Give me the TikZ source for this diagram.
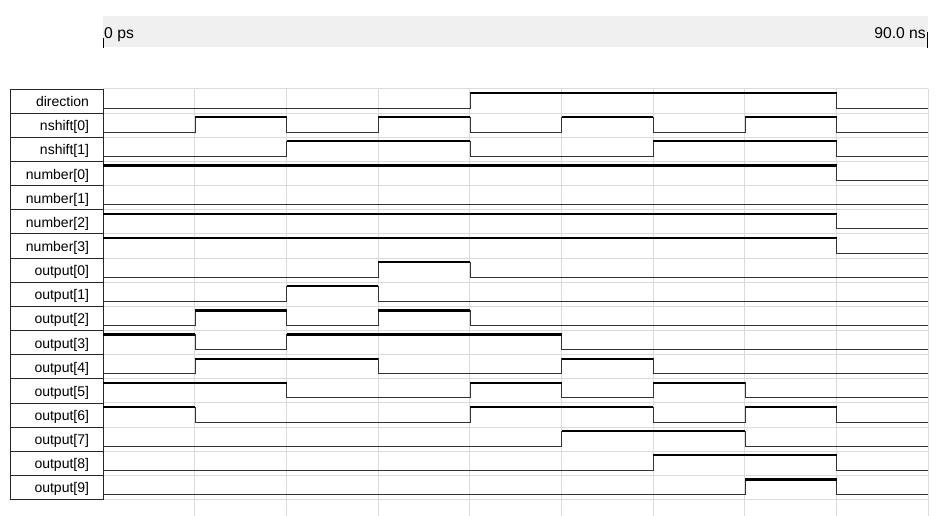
\documentclass[tikz,border=0pt]{standalone}
\usepackage{fontspec}
\setmainfont{Liberation Sans}
\begin{document}
\begin{tikzpicture}[x=1pt, y=-1pt, node distance=24.15pt,
    sig/.style={draw=black!85, line width=0.9pt, minimum height=24.15pt, text width=93pt, inner xsep=0pt,
      align=right, text height=11pt, text depth=0pt, font=\fontsize{14}{16}\selectfont,
      execute at end node=\hspace*{14pt}},
    grid/.style={draw=black!14, line width=1pt},
    lo/.style={draw=black!80, line width=1pt},
    hi/.style={draw=black, line width=2.3pt},
    wave/.style={shift={(#1.north east)}, xscale=91.67}]
        \useasboundingbox (0,0) rectangle (943,516);
        % time bar
        \fill[black!6] (103,16) rectangle (928,47);
        \draw[line width=1pt] (103,38) -- (103,48);
        \draw[line width=1pt] (927,32) -- (927,48);
        \node[anchor=base west, inner sep=0pt, font=\fontsize{15.7}{18}\selectfont] (start) at (104,38.3) {0 ps};
        \node[anchor=base east, inner sep=0pt, font=\fontsize{15.7}{18}\selectfont] (stop) at (926,38.3) {90.0 ns};
        % grid
        \foreach \i in {0,...,17}
            \draw[grid] (103,{89+24.15*\i}) -- (928,{89+24.15*\i});
        \foreach \k in {1,...,9}
            \draw[grid] ({103+91.67*\k},89) -- ({103+91.67*\k},516);
        % signal names
        \node[sig] (dir) at (56.5,101.075) {direction};
        \node[sig] (ns0) [below of=dir] {nshift[0]};
        \node[sig] (ns1) [below of=ns0] {nshift[1]};
        \node[sig] (num0) [below of=ns1] {number[0]};
        \node[sig] (num1) [below of=num0] {number[1]};
        \node[sig] (num2) [below of=num1] {number[2]};
        \node[sig] (num3) [below of=num2] {number[3]};
        \node[sig] (out0) [below of=num3] {output[0]};
        \node[sig] (out1) [below of=out0] {output[1]};
        \node[sig] (out2) [below of=out1] {output[2]};
        \node[sig] (out3) [below of=out2] {output[3]};
        \node[sig] (out4) [below of=out3] {output[4]};
        \node[sig] (out5) [below of=out4] {output[5]};
        \node[sig] (out6) [below of=out5] {output[6]};
        \node[sig] (out7) [below of=out6] {output[7]};
        \node[sig] (out8) [below of=out7] {output[8]};
        \node[sig] (out9) [below of=out8] {output[9]};
        % waveforms
        \def\L{19.6}
        \def\H{4.5}
        \draw[lo, wave=dir] (0,\L) -| (4,\H) -| (8,\L) -- (9,\L);
        \draw[hi, wave=dir] (4,\H) -- (8,\H);
        \draw[lo, wave=ns0] (0,\L) -| (1,\H) -| (2,\L) -| (3,\H) -| (4,\L) -| (5,\H) -| (6,\L) -| (7,\H) -| (8,\L) -- (9,\L);
        \draw[hi, wave=ns0] (1,\H) -- (2,\H) (3,\H) -- (4,\H) (5,\H) -- (6,\H) (7,\H) -- (8,\H);
        \draw[lo, wave=ns1] (0,\L) -| (2,\H) -| (4,\L) -| (6,\H) -| (8,\L) -- (9,\L);
        \draw[hi, wave=ns1] (2,\H) -- (4,\H) (6,\H) -- (8,\H);
        \draw[lo, wave=num0] (0,\H) -| (8,\L) -- (9,\L);
        \draw[hi, wave=num0] (0,\H) -- (8,\H);
        \draw[lo, wave=num1] (0,\L) -- (9,\L);
        \draw[lo, wave=num2] (0,\H) -| (8,\L) -- (9,\L);
        \draw[hi, wave=num2] (0,\H) -- (8,\H);
        \draw[lo, wave=num3] (0,\H) -| (8,\L) -- (9,\L);
        \draw[hi, wave=num3] (0,\H) -- (8,\H);
        \draw[lo, wave=out0] (0,\L) -| (3,\H) -| (4,\L) -- (9,\L);
        \draw[hi, wave=out0] (3,\H) -- (4,\H);
        \draw[lo, wave=out1] (0,\L) -| (2,\H) -| (3,\L) -- (9,\L);
        \draw[hi, wave=out1] (2,\H) -- (3,\H);
        \draw[lo, wave=out2] (0,\L) -| (1,\H) -| (2,\L) -| (3,\H) -| (4,\L) -- (9,\L);
        \draw[hi, wave=out2] (1,\H) -- (2,\H) (3,\H) -- (4,\H);
        \draw[lo, wave=out3] (0,\H) -| (1,\L) -| (2,\H) -| (5,\L) -- (9,\L);
        \draw[hi, wave=out3] (0,\H) -- (1,\H) (2,\H) -- (5,\H);
        \draw[lo, wave=out4] (0,\L) -| (1,\H) -| (3,\L) -| (5,\H) -| (6,\L) -- (9,\L);
        \draw[hi, wave=out4] (1,\H) -- (3,\H) (5,\H) -- (6,\H);
        \draw[lo, wave=out5] (0,\H) -| (2,\L) -| (4,\H) -| (5,\L) -| (6,\H) -| (7,\L) -- (9,\L);
        \draw[hi, wave=out5] (0,\H) -- (2,\H) (4,\H) -- (5,\H) (6,\H) -- (7,\H);
        \draw[lo, wave=out6] (0,\H) -| (1,\L) -| (4,\H) -| (6,\L) -| (7,\H) -| (8,\L) -- (9,\L);
        \draw[hi, wave=out6] (0,\H) -- (1,\H) (4,\H) -- (6,\H) (7,\H) -- (8,\H);
        \draw[lo, wave=out7] (0,\L) -| (5,\H) -| (7,\L) -- (9,\L);
        \draw[hi, wave=out7] (5,\H) -- (7,\H);
        \draw[lo, wave=out8] (0,\L) -| (6,\H) -| (8,\L) -- (9,\L);
        \draw[hi, wave=out8] (6,\H) -- (8,\H);
        \draw[lo, wave=out9] (0,\L) -| (7,\H) -| (8,\L) -- (9,\L);
        \draw[hi, wave=out9] (7,\H) -- (8,\H);
    \end{tikzpicture}
\end{document}
